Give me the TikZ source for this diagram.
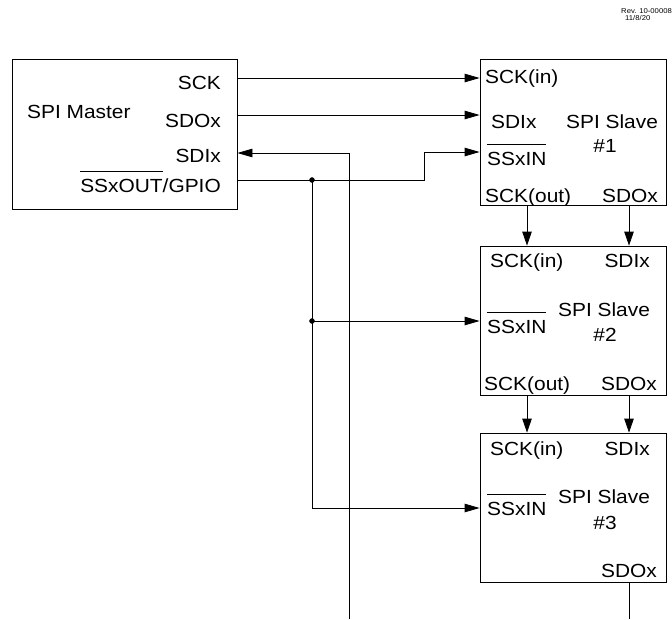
\documentclass[tikz,border=0pt]{standalone}
\usepackage{fontspec}
\setmainfont[FakeStretch=1.1]{Liberation Sans}
\usetikzlibrary{arrows.meta}
\newcommand{\sigbar}[1]{\leavevmode\vbox{\hrule height 0.8pt\kern 6.5pt\hbox{#1}}}
\tikzset{unitbox/.style={rectangle, draw, fill=none, line width=0.8pt, inner sep=0pt}}
\tikzset{pinlbl/.style={inner sep=0pt, font=\fontsize{19}{21}\selectfont}}
\tikzset{revlbl/.style={inner sep=0pt, anchor=base west, font=\fontsize{7}{8}\selectfont}}
\tikzset{sigline/.style={line width=0.8pt}}
\tikzset{sigarrow/.style={sigline, -{Triangle[length=15pt,width=8.5pt]}}}
\tikzset{downarrow/.style={sigline, -{Triangle[length=14pt,width=9.5pt]}}}
\tikzset{joint/.style={circle, draw, fill=black, inner sep=0pt, minimum width=5pt}}

\begin{document}
\begin{tikzpicture}[x=1pt,y=-1pt]
\useasboundingbox (0,0) rectangle (672,619);

\node[revlbl] (revno) at (621,13.5) {Rev. 10-00008};
\node[revlbl] (revdate) at (625,20.5) {11/8/20};

% master
\node[unitbox, minimum width=225pt, minimum height=150pt] (master) at (124.5,134) {};
\node[pinlbl, anchor=base east] (msck) at (221,89) {SCK};
\node[pinlbl, anchor=base west] (mname) at (27,118) {SPI Master};
\node[pinlbl, anchor=base east] (msdo) at (221,127) {SDOx};
\node[pinlbl, anchor=base east] (msdi) at (221,162) {SDIx};
\node[pinlbl, anchor=base east] (mss) at (221,192) {\sigbar{SSxOUT}/GPIO};

% slave 1
\node[unitbox, minimum width=186pt, minimum height=146pt] (slave1) at (573,132) {};
\node[pinlbl, anchor=base west] (s1sck) at (485,83) {SCK(in)};
\node[pinlbl, anchor=base west] (s1sdi) at (491,128) {SDIx};
\node[pinlbl, anchor=base west] (s1ss) at (487,165) {\sigbar{SSxIN}};
\node[pinlbl, anchor=base] (s1name) at (612,128) {SPI Slave};
\node[pinlbl, anchor=base] (s1num) at (605,152) {\#1};
\node[pinlbl, anchor=base west] (s1sckout) at (485,202) {SCK(out)};
\node[pinlbl, anchor=base east] (s1sdo) at (658,202) {SDOx};

% slave 2
\node[unitbox, minimum width=186pt, minimum height=149pt] (slave2) at (573,320.5) {};
\node[pinlbl, anchor=base west] (s2sck) at (490,267) {SCK(in)};
\node[pinlbl, anchor=base east] (s2sdi) at (650,267) {SDIx};
\node[pinlbl, anchor=base west] (s2ss) at (487,333) {\sigbar{SSxIN}};
\node[pinlbl, anchor=base] (s2name) at (604,316) {SPI Slave};
\node[pinlbl, anchor=base] (s2num) at (605,341) {\#2};
\node[pinlbl, anchor=base west] (s2sckout) at (484,390) {SCK(out)};
\node[pinlbl, anchor=base east] (s2sdo) at (657,390) {SDOx};

% slave 3
\node[unitbox, minimum width=186pt, minimum height=149pt] (slave3) at (573,507.5) {};
\node[pinlbl, anchor=base west] (s3sck) at (490,455) {SCK(in)};
\node[pinlbl, anchor=base east] (s3sdi) at (650,455) {SDIx};
\node[pinlbl, anchor=base west] (s3ss) at (487,515) {\sigbar{SSxIN}};
\node[pinlbl, anchor=base] (s3name) at (604,503) {SPI Slave};
\node[pinlbl, anchor=base] (s3num) at (605,529) {\#3};
\node[pinlbl, anchor=base east] (s3sdo) at (657,577) {SDOx};

% wire rows and columns
\coordinate (rsck) at (0,78);
\coordinate (rsdo) at (0,115);
\coordinate (rsdi) at (0,153);
\coordinate (rss) at (0,180);
\coordinate (rss1) at (0,152);
\coordinate (rss2) at (0,321);
\coordinate (rss3) at (0,508);
\coordinate (csdi) at (349,619);
\coordinate (cjog) at (424,0);
\coordinate (ctap) at (312,0);
\coordinate (cclk) at (527,0);
\coordinate (cdat) at (629,0);
\coordinate (sdoend) at (629,619);

\draw[sigarrow] (master.east |- rsck) -- (slave1.west |- rsck);
\draw[sigarrow] (master.east |- rsdo) -- (slave1.west |- rsdo);
\draw[sigarrow] (csdi) -- (csdi |- rsdi) -- (master.east |- rsdi);
\draw[sigarrow] (master.east |- rss) -- (cjog |- rss) -- (cjog |- rss1) -- (slave1.west |- rss1);

\node[joint] (tap1) at (ctap |- rss) {};
\node[joint] (tap2) at (ctap |- rss2) {};
\draw[sigarrow] (tap1.center) -- (ctap |- rss3) -- (slave3.west |- rss3);
\draw[sigarrow] (tap2.center) -- (slave2.west |- rss2);

\draw[downarrow] (slave1.south -| cclk) -- (slave2.north -| cclk);
\draw[downarrow] (slave1.south -| cdat) -- (slave2.north -| cdat);
\draw[downarrow] (slave2.south -| cclk) -- (slave3.north -| cclk);
\draw[downarrow] (slave2.south -| cdat) -- (slave3.north -| cdat);
\draw[sigline] (slave3.south -| cdat) -- (sdoend);

\end{tikzpicture}
\end{document}
